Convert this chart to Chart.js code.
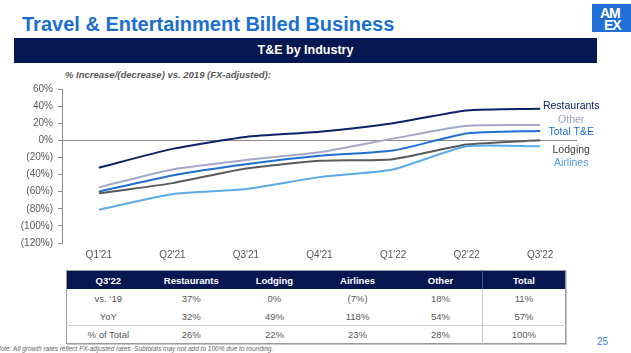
<!DOCTYPE html>
<html>
<head>
<meta charset="utf-8">
<script src="https://cdn.jsdelivr.net/npm/chart.js@4/dist/chart.umd.min.js"></script>
<style>
  html, body { margin: 0; padding: 0; background: #fff; }
  body { width: 631px; height: 353px; position: relative; overflow: hidden;
         font-family: "Liberation Sans", Arial, sans-serif; }
  .title { position: absolute; left: 22px; top: 14px; font-size: 20px; line-height: 20px;
           font-weight: bold; color: #1b6fd2; white-space: nowrap; }
  .logo { position: absolute; left: 592px; top: 4px; width: 50px; height: 28px;
          background: #1f6fd6; overflow: hidden; }
  .logo span { position: absolute; color: #fff; font-weight: bold; font-size: 14px; line-height: 12px;
               letter-spacing: -1px; }
  .band { position: absolute; left: 14px; top: 38px; width: 583px; height: 25px;
          background: #061752; color: #fff; font-weight: bold; font-size: 12.5px;
          line-height: 25px; text-align: center; }
  .sub { position: absolute; left: 65px; top: 69px; font-size: 9.5px; line-height: 12px;
         font-weight: bold; font-style: italic; color: #595959; white-space: nowrap; }
  #wrap { position: absolute; left: 0; top: 78px; width: 631px; height: 185px; }
  table { position: absolute; left: 66px; top: 270px; width: 500px; border-collapse: collapse;
          table-layout: fixed; font-size: 9.5px; color: #595959;
          border: 1px solid #9a9a9a; box-shadow: 1px 1px 0 #c8c8c8; }
  th { background: #061752; color: #fff; font-weight: bold; height: 18px; padding: 0; }
  td { text-align: center; height: 18px; padding: 0; }
  tr.last td { border-top: 1px solid #d0d0d0; height: 17px; }
  .sep { border-left: 1px solid #c8c8c8; }
  th.sep { border-left: 1px solid #4a5580; }
  .page { position: absolute; left: 597px; top: 336px; font-size: 10px; color: #3a86d8; }
  .note { position: absolute; left: -4px; top: 345px; font-size: 6.5px; font-style: italic;
          color: #666; white-space: nowrap; }
</style>
</head>
<body>
<div class="title">Travel &amp; Entertainment Billed Business</div>
<div class="logo"><span style="left:8px;top:3px">AM</span><span style="left:12px;top:15px">EX</span></div>
<div class="band">T&amp;E by Industry</div>
<div class="sub">% Increase/(decrease) vs. 2019 (FX-adjusted):</div>
<div id="wrap"><canvas id="chart"></canvas></div>
<table id="tbl"></table>
<div class="page">25</div>
<div class="note">Note: All growth rates reflect FX-adjusted rates. Subtotals may not add to 100% due to rounding.</div>

<script>
// Chart data (% vs. 2019, FX-adjusted)
const quarters = ["Q1'21", "Q2'21", "Q3'21", "Q4'21", "Q1'22", "Q2'22", "Q3'22"];
const restaurants = [-32, -10, 4, 10, 20, 35, 37];
const other = [-55, -34, -23, -14, 2, 17, 18];
const totalTE = [-60, -41, -28, -18, -12, 8, 11];
const lodging = [-62, -50, -33, -24, -22, -5, 0];
const airlines = [-81, -63, -57, -43, -34, -7, -7];

// Table data
const tableHead = ["Q3'22", "Restaurants", "Lodging", "Airlines", "Other", "Total"];
const rowNames = ["vs. \u201819", "YoY", "% of Total"];
const vs19 = ["37%", "0%", "(7%)", "18%", "11%"];
const yoy = ["32%", "49%", "118%", "54%", "57%"];
const shareOfTotal = ["26%", "22%", "23%", "28%", "100%"];

// build the table
const tbl = document.getElementById("tbl");
let html = "<colgroup>" + tableHead.map(() => "<col>").join("") + "</colgroup><tr>";
tableHead.forEach((h, i) => {
  html += `<th${i === 5 ? ' class="sep"' : ""}>${h}</th>`;
});
html += "</tr>";
[vs19, yoy, shareOfTotal].forEach((row, r) => {
  html += `<tr${r === 2 ? ' class="last"' : ""}><td>${rowNames[r]}</td>`;
  row.forEach((v, i) => {
    html += `<td${i === 4 ? ' class="sep"' : ""}>${v}</td>`;
  });
  html += "</tr>";
});
tbl.innerHTML = html;

Chart.defaults.font.family = "'Liberation Sans', Arial, sans-serif";
Chart.defaults.color = "#595959";

// series labels at the right end of each line
const endLabels = {
  id: "endLabels",
  afterDatasetsDraw(chart) {
    const ctx = chart.ctx;
    ctx.save();
    ctx.font = "10.5px 'Liberation Sans', Arial, sans-serif";
    ctx.textAlign = "center";
    ctx.textBaseline = "middle";
    chart.data.datasets.forEach((ds, i) => {
      const pts = chart.getDatasetMeta(i).data;
      const last = pts[pts.length - 1];
      ctx.fillStyle = ds.labelColor || ds.borderColor;
      ctx.fillText(ds.label, last.x + 31, last.y + ds.labelDy);
    });
    ctx.restore();
  },
};

new Chart(document.getElementById("chart"), {
  type: "line",
  data: {
    labels: quarters,
    datasets: [
      { label: "Airlines", data: airlines, borderColor: "#5aaaea", labelColor: "#4d9fe4", labelDy: 17 },
      { label: "Lodging", data: lodging, borderColor: "#5a5a5a", labelColor: "#404040", labelDy: 10 },
      { label: "Total T&E", data: totalTE, borderColor: "#1f6fd2", labelDy: 1 },
      { label: "Other", data: other, borderColor: "#a3a8c8", labelColor: "#9a9fc2", labelDy: -5 },
      { label: "Restaurants", data: restaurants, borderColor: "#0c2266", labelDy: -3 },
    ],
  },
  options: {
    responsive: true,
    maintainAspectRatio: false,
    animation: false,
    layout: { padding: { top: 9, right: 54, left: 0, bottom: 0 } },
    elements: {
      line: { borderWidth: 2, tension: 0.2, fill: false },
      point: { radius: 0 },
    },
    plugins: { legend: { display: false }, tooltip: { enabled: false } },
    scales: {
      x: {
        offset: true,
        grid: { display: false, drawTicks: false, tickLength: 0 },
        border: { display: false },
        ticks: { padding: 6, font: { size: 10 }, maxRotation: 0 },
        afterFit: (scale) => { scale.height = 20; },
      },
      y: {
        min: -120,
        max: 60,
        ticks: {
          stepSize: 20,
          padding: 5,
          font: { size: 10 },
          callback: (v) => (v < 0 ? `(${-v}%)` : `${v}%`),
        },
        grid: {
          color: (c) => (c.tick && c.tick.value === 0 ? "#8c8c8c" : "transparent"),
          tickColor: "#8c8c8c",
          tickLength: 4,
        },
        border: { display: true, color: "#8c8c8c" },
        afterFit: (scale) => { scale.width = 62; },
      },
    },
  },
  plugins: [endLabels],
});
</script>
</body>
</html>
